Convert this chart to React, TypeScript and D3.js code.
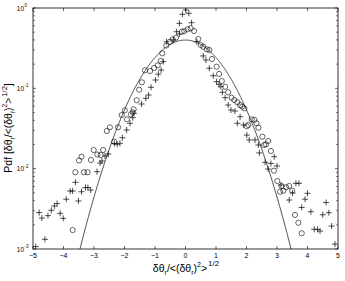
import React, { useEffect } from "react";
import * as d3 from "d3";

// Circle series: [x, pdf]
const circleX = [-3.70,-3.61,-3.49,-3.41,-3.33,-3.21,-3.10,-3.01,-2.89,-2.78,-2.70,-2.58,-2.48,-2.34,-2.21,-2.09,-1.99,-1.92,-1.79,-1.73,-1.70,-1.60,-1.52,-1.43,-1.33,-1.16,-1.03,-0.91,-0.81,-0.76,-0.63,-0.51,-0.42,-0.31,-0.12,-0.04,0.07,0.17,0.28,0.42,0.50,0.58,0.70,0.78,0.87,1.02,1.10,1.19,1.30,1.40,1.51,1.60,1.70,1.79,1.86,1.93,2.01,2.06,2.17,2.26,2.33,2.39,2.52,2.58,2.64,2.71,2.80,2.90,3.01,3.10,3.15,3.21,3.30,3.40,3.50,3.59,3.70,3.81];
const circleP = [0.00172,0.00902,0.01265,0.01409,0.00902,0.00902,0.01282,0.01707,0.0150,0.01479,0.01707,0.02943,0.03273,0.02168,0.03273,0.04656,0.05328,0.04115,0.0475,0.05032,0.05483,0.0710,0.0962,0.1189,0.1676,0.1644,0.179,0.1935,0.219,0.273,0.341,0.380,0.408,0.427,0.507,0.517,0.543,0.559,0.517,0.411,0.346,0.330,0.306,0.300,0.232,0.186,0.151,0.1234,0.1048,0.0893,0.0764,0.0716,0.0670,0.0620,0.0591,0.0564,0.0337,0.0350,0.0411,0.0404,0.0367,0.0324,0.0250,0.0197,0.0201,0.0221,0.0166,0.00944,0.00702,0.00516,0.00608,0.00532,0.00586,0.00608,0.00532,0.00265,0.00212,0.00157];

// Plus series: [x, pdf]
const plusX = [-4.91,-4.80,-4.71,-4.61,-4.51,-4.40,-4.30,-4.21,-4.11,-4.01,-3.91,-3.78,-3.70,-3.61,-3.51,-3.41,-3.28,-3.20,-3.11,-2.90,-2.80,-2.74,-2.64,-2.53,-2.33,-2.24,-2.15,-2.07,-1.93,-1.82,-1.73,-1.69,-1.44,-1.30,-1.21,-1.13,-0.98,-0.89,-0.80,-0.73,-0.62,-0.40,-0.29,-0.20,-0.20,-0.10,0.01,0.11,0.20,0.37,0.58,0.67,0.78,0.91,1.02,1.10,1.16,1.21,1.30,1.40,1.49,1.62,1.70,1.79,1.90,2.01,2.09,2.28,2.39,2.42,2.61,2.71,2.80,2.91,3.00,3.13,3.40,3.51,3.62,3.72,3.81,3.92,4.00,4.11,4.22,4.33,4.41,4.50,4.61,4.70,4.79,4.90];
const plusP = [0.00107,0.00284,0.00243,0.00132,0.00260,0.00303,0.00343,0.00368,0.00278,0.00241,0.00417,0.00527,0.00527,0.00676,0.00396,0.00516,0.00582,0.00582,0.00542,0.00917,0.01176,0.01246,0.01438,0.01521,0.02056,0.0201,0.0207,0.0243,0.0303,0.0367,0.0431,0.0489,0.0638,0.0751,0.0826,0.103,0.127,0.150,0.169,0.215,0.38,0.40,0.507,0.474,0.645,0.835,0.944,0.859,0.656,0.380,0.253,0.225,0.178,0.1435,0.121,0.112,0.1048,0.0893,0.0764,0.0620,0.0537,0.0522,0.0367,0.0443,0.0350,0.0262,0.0228,0.0228,0.0197,0.0157,0.0120,0.0099,0.0116,0.0141,0.0108,0.00626,0.00407,0.00498,0.00657,0.00657,0.00329,0.00417,0.00493,0.00291,0.00176,0.00175,0.00167,0.00267,0.00379,0.00283,0.00193,0.00115];

const xTicks = [-5,-4,-3,-2,-1,0,1,2,3,4,5];
const yTicks = [1e-3, 1e-2, 1e-1, 1];
const yTickExp = ["-3", "-2", "-1", "0"];

const W = 345, H = 281;
const L = 33, R = 338, T = 8, B = 249;
const FONT = "'Liberation Sans', Arial, Helvetica, sans-serif";

export default function App() {
  useEffect(() => { document.body.style.margin = "0"; }, []);
  const x = d3.scaleLinear().domain([-5, 5]).range([L, R]);
  const y = d3.scaleLog().domain([1e-3, 1]).range([B, T]);

  const gx = d3.range(-4, 4.0001, 0.02);
  const gauss = gx.map((v) => [v, Math.exp(-v * v / 2) / Math.sqrt(2 * Math.PI)] as [number, number]);
  const line = d3.line<[number, number]>().x((d) => x(d[0])).y((d) => y(d[1]));

  const minor: number[] = [];
  for (let e = -3; e < 0; e++) for (let m = 2; m <= 9; m++) minor.push(m * Math.pow(10, e));

  return (
    <svg width={W} height={H} style={{ position: "absolute", left: 0, top: 0, background: "#fff" }} fontFamily={FONT}>
      <defs>
        <clipPath id="plot"><rect x={L} y={T} width={R - L} height={B - T} /></clipPath>
      </defs>
      <rect x={0} y={0} width={W} height={H} fill="#fff" />
      <g clipPath="url(#plot)">
        <path d={line(gauss) || ""} fill="none" stroke="#222" strokeWidth={0.8} />
        {circleX.map((cx, i) => (
          <circle key={"c" + i} cx={x(cx)} cy={y(circleP[i])} r={2.6} fill="none" stroke="#000" strokeWidth={0.6} />
        ))}
        {plusX.map((px, i) => {
          const X = x(px), Y = y(plusP[i]);
          return (
            <path key={"p" + i} d={`M${X - 3},${Y}H${X + 3}M${X},${Y - 3}V${Y + 3}`} stroke="#000" strokeWidth={0.7} fill="none" />
          );
        })}
      </g>
      <rect x={L} y={T} width={R - L} height={B - T} fill="none" stroke="#000" strokeWidth={0.8} />
      {xTicks.map((t) => (
        <g key={"xt" + t}>
          <line x1={x(t)} x2={x(t)} y1={B} y2={B - 3} stroke="#000" strokeWidth={0.6} />
          <line x1={x(t)} x2={x(t)} y1={T} y2={T + 3} stroke="#000" strokeWidth={0.6} />
          <text x={x(t)} y={B + 9} fontSize={7} textAnchor="middle">{t < 0 ? "\u2212" + Math.abs(t) : String(t)}</text>
        </g>
      ))}
      {yTicks.map((t, i) => (
        <g key={"yt" + i}>
          <line x1={L} x2={L + 3} y1={y(t)} y2={y(t)} stroke="#000" strokeWidth={0.6} />
          <line x1={R} x2={R - 3} y1={y(t)} y2={y(t)} stroke="#000" strokeWidth={0.6} />
          <text x={L - 9} y={y(t) + 2.5} fontSize={6.5} textAnchor="end">10</text>
          <text x={L - 8.5} y={y(t) - 1} fontSize={4.5} textAnchor="start">{yTickExp[i]}</text>
        </g>
      ))}
      {minor.map((t, i) => (
        <g key={"ym" + i}>
          <line x1={L} x2={L + 2} y1={y(t)} y2={y(t)} stroke="#000" strokeWidth={0.5} />
          <line x1={R} x2={R - 2} y1={y(t)} y2={y(t)} stroke="#000" strokeWidth={0.5} />
        </g>
      ))}
      <text x={186} y={272} fontSize={10.5} textAnchor="middle">
        <tspan>δθ</tspan>
        <tspan fontSize={7} dy={3}>r</tspan>
        <tspan dy={-3}>/&lt;(δθ</tspan>
        <tspan fontSize={7} dy={3}>r</tspan>
        <tspan dy={-3}>)</tspan>
        <tspan fontSize={7} dy={-5}>2</tspan>
        <tspan dy={5}>&gt;</tspan>
        <tspan fontSize={8} dy={-6} dx={1}>1/2</tspan>
      </text>
      <text transform={`translate(12,128) rotate(-90)`} fontSize={10.5} textAnchor="middle">
        <tspan>Pdf [δθ</tspan>
        <tspan fontSize={6.5} dy={3}>r</tspan>
        <tspan dy={-3}>/&lt;(δθ</tspan>
        <tspan fontSize={6.5} dy={3}>r</tspan>
        <tspan dy={-3}>)</tspan>
        <tspan fontSize={6.5} dy={-5}>2</tspan>
        <tspan dy={5}>&gt;</tspan>
        <tspan fontSize={7.5} dy={-5} dx={1}>1/2</tspan>
        <tspan dy={5}>]</tspan>
      </text>
    </svg>
  );
}
